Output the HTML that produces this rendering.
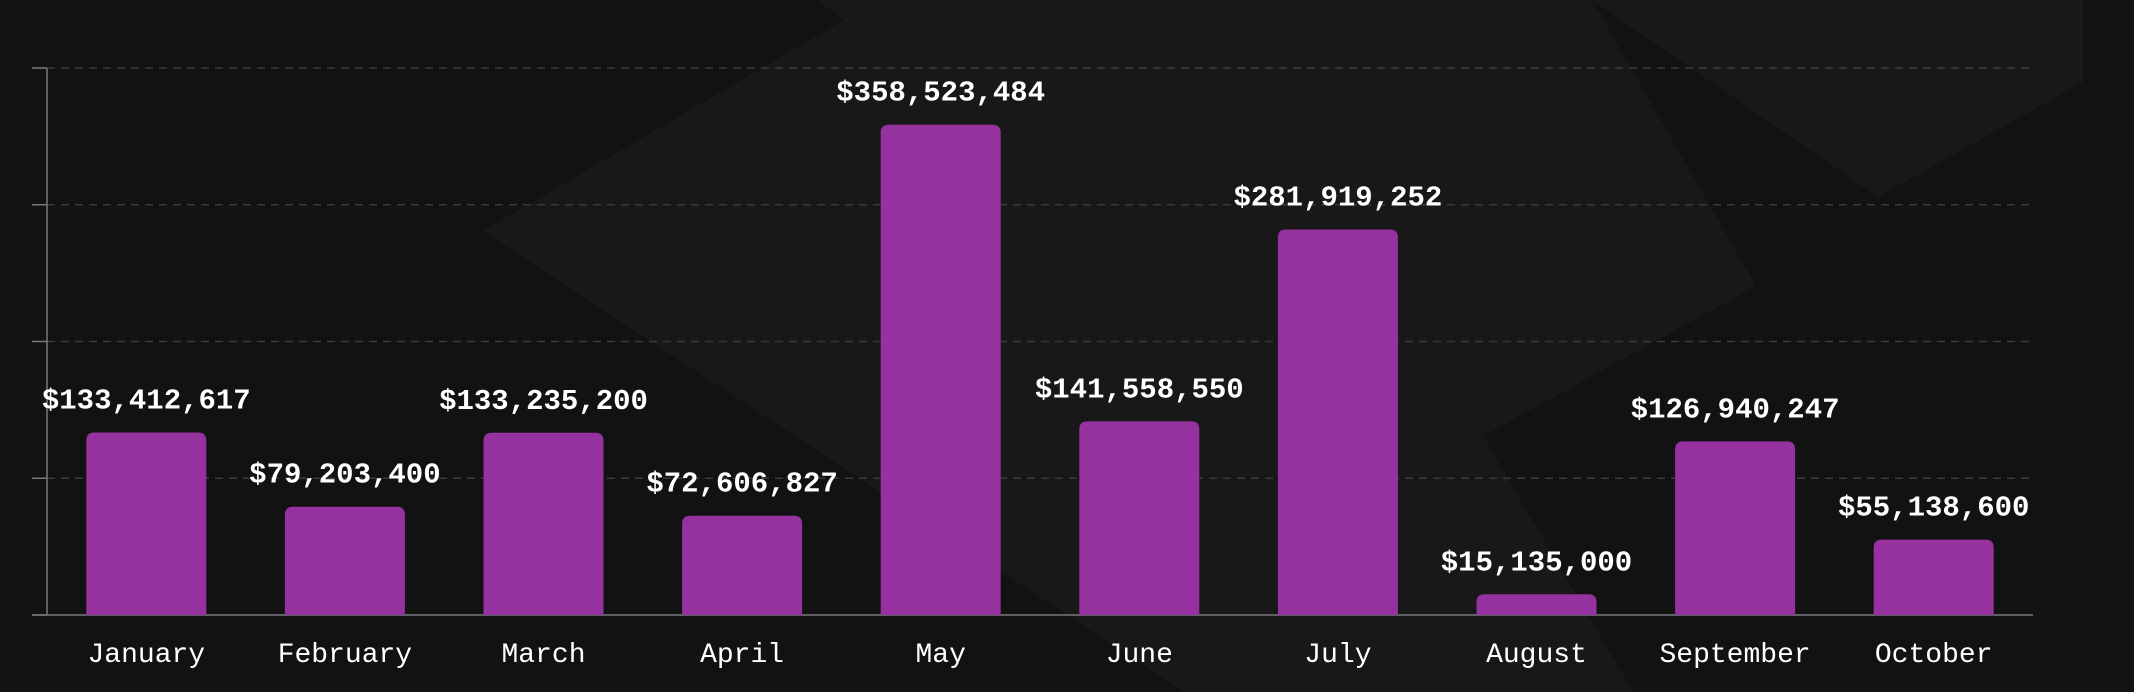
<!DOCTYPE html>
<html><head><meta charset="utf-8"><style>
html,body{margin:0;padding:0;background:#121212;}
svg{display:block;}
</style></head><body>
<svg id="chart" width="2134" height="692" viewBox="0 0 2134 692" xmlns="http://www.w3.org/2000/svg">
<rect x="0" y="0" width="2134" height="692" fill="#121212"/>
<g fill="#181818">
<polygon points="483,231 844,20 817,0 1592,0 1756,286 1483,436 1633,692 1184,692"/>
<polygon points="1592,0 2083,0 2083,82 1878,197" />
</g>
<g id="grid"></g>
<g id="bars"></g>
<g id="labels"></g>
</svg>
<script>
const categories=["January","February","March","April","May","June","July","August","September","October"];
const values=[133412617,79203400,133235200,72606827,358523484,141558550,281919252,15135000,126940247,55138600];
const yTicks=[0,100000000,200000000,300000000,400000000];
const NS="http://www.w3.org/2000/svg";
const x0=47,x1=2033,yBase=615,yTop=68,yMax=400000000;
const band=(x1-x0)/categories.length,bw=120;
const y=v=>yBase-(v/yMax)*(yBase-yTop);
const bx=i=>x0+band*i+band/2;
function mk(tag,attrs,parent){const e=document.createElementNS(NS,tag);for(const k in attrs)e.setAttribute(k,attrs[k]);parent.appendChild(e);return e;}
const grid=document.getElementById('grid'),bars=document.getElementById('bars'),labels=document.getElementById('labels');
yTicks.forEach(t=>{
 const yy=y(t);
 if(t>0){const g=mk('line',{x1:x0,x2:x1,y1:yy,y2:yy,stroke:'#3a3a3a','stroke-width':1.5,'stroke-dasharray':'8 6'},grid);
 
 }
 const tk=mk('line',{x1:32,x2:x0,y1:yy,y2:yy,stroke:'#77777f','stroke-width':1.5},grid);
 
 
});
const ya=mk('line',{x1:x0,x2:x0,y1:yTop,y2:yBase,stroke:'#77777f','stroke-width':1.5},grid);


const xa=mk('line',{x1:32,x2:x1,y1:yBase,y2:yBase,stroke:'#77777f','stroke-width':1.5},grid);


values.forEach((v,i)=>{
 const cx=bx(i),top=y(v),h=yBase-top,r=Math.min(8,h/2),l=cx-bw/2,rr=cx+bw/2;
 const p=mk('path',{d:`M${l},${yBase}V${top+r}Q${l},${top} ${l+r},${top}H${rr-r}Q${rr},${top} ${rr},${top+r}V${yBase}Z`,fill:'#95329f'},bars);
 
 
 const t=mk('text',{x:cx,y:top-24,'text-anchor':'middle',fill:'#ffffff','font-family':'"Liberation Mono",monospace','font-weight':'bold','font-size':29},labels);
 t.textContent='$'+v.toLocaleString('en-US');
 
 
 const c=mk('text',{x:cx,y:662,'text-anchor':'middle',fill:'#ffffff','font-family':'"Liberation Mono",monospace','font-size':28},labels);
 c.textContent=categories[i];
 
 
});
</script>
</body></html>
